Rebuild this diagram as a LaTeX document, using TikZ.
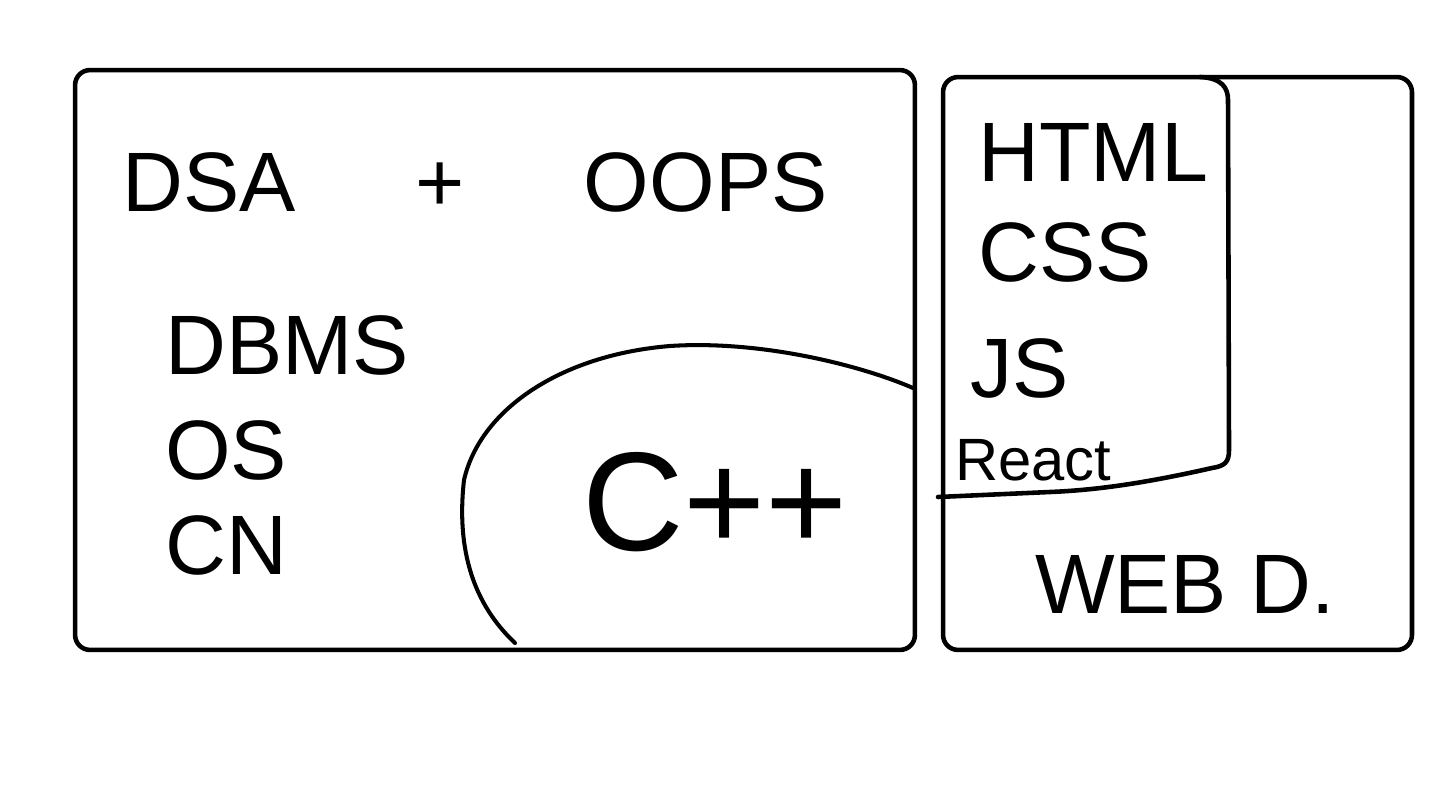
\documentclass[tikz,border=0pt]{standalone}
\usepackage{fontspec}
\setmainfont{Liberation Sans}
\usetikzlibrary{positioning}
\newcommand{\handsize}[1]{\fontsize{#1}{#1}\selectfont}

\begin{document}
\begin{tikzpicture}[
    x=0.02cm, y=-0.02cm,
    pen/.style={line width=2.6pt, line cap=round, line join=round},
    thinpen/.style={line width=2.3pt, line cap=round, line join=round},
    panel/.style={pen, draw, rounded corners=0.3cm, inner sep=0pt},
    hand/.style={inner sep=0pt, font=\handsize{48}},
    small/.style={hand, font=\handsize{34}},
    big/.style={hand, font=\handsize{80}}
]
\useasboundingbox (0,0) rectangle (1452,797);

% Panels
\node[panel, minimum width=16.8cm, minimum height=11.6cm] (corebox) at (495,360) {};
\node[panel, minimum width=9.38cm, minimum height=11.46cm] (webbox) at (1177.5,363.5) {};

% Core subjects
\node[hand] (dsa) at (475,182) {DSA\hspace{68pt}+\hspace{68pt}OOPS};
\node[hand, anchor=west] (dbms) at (165,345) {DBMS};
\node[hand, below=0.9cm of dbms.south west, anchor=north west] (os) {OS};
\node[hand, below=0.7cm of os.south west, anchor=north west] (cn) {CN};

% C++ region
\draw[thinpen] (913,388) .. controls (860,365) and (760,340) .. (670,346)
    .. controls (560,355) and (480,410) .. (464,480)
    .. controls (455,560) and (480,610) .. (515,643);
\node[big] (cpp) at (715,502) {C++};

% Web stack
\node[hand, anchor=west] (html) at (978,152) {HTML};
\node[hand, anchor=west] (css) at (978,252) {CSS};
\node[hand, anchor=west] (js) at (970,368) {JS};
\node[small, anchor=west] (react) at (955,460) {React};
\draw[pen] (1200,77) .. controls (1222,78) and (1228,88) .. (1228,100)
    -- (1229,450) .. controls (1229,462) and (1225,466) .. (1212,468)
    .. controls (1150,482) and (1100,490) .. (1050,492) -- (938,497);
\node[hand] (webd) at (1185,584) {WEB D.};

\end{tikzpicture}
\end{document}
